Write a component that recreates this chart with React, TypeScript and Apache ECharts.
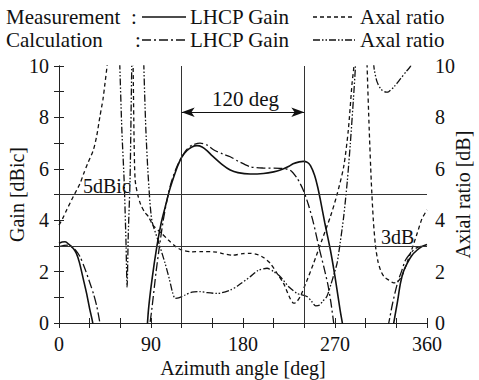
import React, { useEffect, useRef } from "react";
import * as echarts from "echarts";

type Pt = [number, number | string];

const xTicks = [0, 90, 180, 270, 360];

const measGain: Pt[] = [
  [0, 3.1], [3, 3.15], [6, 3.16], [10, 3.05], [14, 2.9], [17, 2.71], [20, 2.35], [24, 1.67], [27, 1.15], [30, 0.55], [33, 0], [36, -1],
  [60, "-"],
  [85, -1], [87.5, 0.5], [91, 1.7], [95.7, 2.97], [100, 3.9], [103.8, 4.5], [108, 5.15], [112, 5.65], [116, 6.1], [120, 6.45], [125, 6.7], [130, 6.85], [135, 6.9], [140, 6.85], [145, 6.7], [150, 6.5], [160, 6.15], [167.5, 5.95], [175, 5.85], [187, 5.8], [200, 5.82], [210, 5.88], [216.5, 5.95], [225, 6.1], [229, 6.2], [235, 6.27], [239, 6.29], [243, 6.25], [246, 6.12], [250, 5.75], [253, 5.3], [255.7, 4.79], [260, 3.9], [265.5, 2.84], [270, 1.8], [275, 0.5], [278, -0.2], [280, -1],
  [300, "-"],
  [324, -1], [327.5, 0], [331, 0.8], [334, 1.54], [337, 2.0], [340.6, 2.32], [345, 2.62], [350.4, 2.84], [355, 2.97], [360, 3.05],
];

const calcGain: Pt[] = [
  [0, 2.97], [5, 3.02], [9, 3.03], [13, 2.95], [17, 2.8], [20.6, 2.58], [25, 2.15], [30.4, 1.54], [34, 1.1], [37, 0.64], [40, 0], [42, -0.6],
  [60, "-"],
  [86, -0.6], [89, 0], [91, 0.6], [95, 2.0], [98, 2.9], [102, 4.0], [106, 4.85], [110, 5.5], [115, 6.05], [120, 6.45], [125, 6.75], [130, 6.92], [138, 7.0], [145, 6.92], [152, 6.72], [160, 6.58], [167.5, 6.47], [175, 6.3], [187, 6.08], [200, 6.03], [216.5, 6.02], [226, 5.95], [233, 5.63], [239, 5.17], [244, 4.6], [249, 3.88], [254, 3.0], [259, 2.19], [263, 1.5], [266, 0.8], [268.7, 0], [271, -0.8],
  [300, "-"],
  [318, -0.8], [322.6, 0], [326, 0.7], [331, 1.54], [335, 2.0], [339, 2.45], [344, 2.72], [348.7, 2.9], [354, 2.98], [360, 3.0],
];

const measAR: Pt[] = [
  [0, 3.81], [4, 4.1], [7.5, 4.4], [14, 4.92], [20.6, 5.43], [24, 5.8], [28, 6.2], [33.6, 6.73], [37, 7.3], [40, 8.03], [43, 8.7], [45, 9.33], [47, 10], [49, 11], [50, 12],
  [60, "-"],
  [71, 14], [72.5, 10], [73.5, 7], [74.5, 5.56], [77, 5.0], [80, 4.6], [84, 4.3], [87.5, 4.14], [92, 3.8], [100, 3.5], [107, 3.23], [115, 2.95], [120, 2.84], [130, 2.77], [140, 2.78], [154, 2.76], [160, 2.7], [170, 2.64], [180, 2.7], [187, 2.71], [195, 2.65], [200, 2.55], [206.7, 2.32], [213, 1.95], [219.7, 1.54], [225, 1.05], [229.5, 0.77], [232, 0.8], [236, 1.03], [242, 1.6], [249, 2.32], [257, 3.2], [265.5, 4.14], [272, 5.0], [278.5, 6.08], [283, 7.5], [286.7, 9.33], [288.5, 10], [290, 11.5],
  [295, "-"],
  [300, 12], [301.4, 10], [303.5, 7.5], [305.5, 5.5], [307.5, 4.0], [309.6, 3.0], [312, 2.4], [314.5, 2.06], [318, 1.8], [322.6, 1.67], [327.5, 1.56], [331, 1.6], [335, 1.8], [339, 2.19], [345, 2.85], [350.4, 3.49], [355, 4.05], [360, 4.4],
];

const calcAR: Pt[] = [
  [58, 12], [59.5, 10], [61.5, 7.5], [63.7, 5.56], [65.5, 3.2], [66.6, 1.4], [67.8, 3.5], [69.5, 5.56], [71.2, 10], [72.5, 12],
  [76, "-"],
  [82, 12], [83, 10], [85, 7.5], [87.5, 5.56], [90.8, 4.0], [97, 3.2], [103.8, 2.32], [108, 1.7], [111, 1.2], [113.6, 0.96], [117, 0.98], [123.4, 1.09], [130, 1.2], [138, 1.22], [145, 1.18], [155, 1.15], [167.5, 1.28], [175, 1.45], [187, 1.8], [195, 2.05], [203.5, 2.13], [210, 2.0], [216.5, 1.8], [225, 1.4], [233, 1.15], [242.5, 1.03], [247, 0.85], [251, 0.67], [255, 0.7], [258, 0.85], [262, 1.03], [266, 1.5], [269, 1.9], [272, 2.32], [275, 3.1], [278.5, 4.14], [282, 5.5], [285, 6.99], [288, 8.7], [290, 10], [292, 12],
  [299, "-"],
  [306, 12], [308, 10], [311, 9.4], [315, 9.1], [320, 8.98], [322.6, 9.0], [328, 9.2], [334, 9.5], [340, 9.8], [344, 10], [346, 10.5], [348, 11],
];

const refGain = 5;
const refAR = 3;
const beamEdges = [120, 240];
const arrowLevel = 8.2;

const FONT = "Liberation Serif";

export default function App() {
  const ref = useRef<HTMLDivElement>(null);
  useEffect(() => {
    document.body.style.margin = "0";
    const chart = echarts.init(ref.current!, null, { renderer: "svg" });
    const axisLine = { lineStyle: { color: "#222", width: 1 } };
    const tickCommon = { inside: true, length: 5, lineStyle: { color: "#222", width: 1 } };
    const txt = (text: string, x: number, y: number, size = 20) => ({
      type: "text", x, y,
      style: { text, fontFamily: FONT, fontSize: size, fill: "#111", textVerticalAlign: "middle", verticalAlign: "middle" },
    });
    const lineSeries = (name: string, data: Pt[], type: any, width = 1.5) => ({
      name,
      type: "line",
      data,
      showSymbol: false,
      symbol: "none",
      smooth: 0.25,
      connectNulls: false,
      clip: true,
      lineStyle: { color: "#111", width, type },
      z: 3,
    });
    const option: any = {
      animation: false,
      backgroundColor: "#fff",
      grid: { left: 59, right: 52, top: 66, bottom: 57, containLabel: false, outerBoundsMode: "none" },
      xAxis: [
        {
          type: "value", min: 0, max: 360, interval: 30, position: "bottom",
          name: "Azimuth angle [deg]", nameLocation: "middle", nameGap: 35, nameMoveOverlap: false,
          nameTextStyle: { fontFamily: FONT, fontSize: 20, color: "#111" },
          axisLine, axisTick: tickCommon, splitLine: { show: false },
          axisLabel: { fontFamily: FONT, fontSize: 20, color: "#111", margin: 11,
            formatter: (v: number) => (xTicks.indexOf(v) >= 0 ? String(v) : "") },
        },
        {
          type: "value", min: 0, max: 360, interval: 30, position: "top",
          axisLine, axisTick: tickCommon, splitLine: { show: false }, axisLabel: { show: false },
        },
      ],
      yAxis: [
        {
          type: "value", min: 0, max: 10, interval: 1, position: "left",
          name: "Gain [dBic]", nameLocation: "middle", nameGap: 32, nameRotate: 90, nameMoveOverlap: false,
          nameTextStyle: { fontFamily: FONT, fontSize: 20, color: "#111" },
          axisLine, axisTick: tickCommon, splitLine: { show: false },
          axisLabel: { fontFamily: FONT, fontSize: 20, color: "#111", margin: 10,
            formatter: (v: number) => (v % 2 === 0 ? String(v) : "") },
        },
        {
          type: "value", min: 0, max: 10, interval: 1, position: "right",
          name: "Axial ratio [dB]", nameLocation: "middle", nameGap: 26, nameRotate: 90, nameMoveOverlap: false,
          nameTextStyle: { fontFamily: FONT, fontSize: 20, color: "#111" },
          axisLine, axisTick: tickCommon, splitLine: { show: false },
          axisLabel: { fontFamily: FONT, fontSize: 20, color: "#111", margin: 8,
            formatter: (v: number) => (v % 2 === 0 ? String(v) : "") },
        },
      ],
      series: [
        {
          ...lineSeries("Measurement LHCP Gain", measGain, "solid", 1.6),
          markLine: {
            silent: true, symbol: "none", animation: false,
            label: { show: false },
            lineStyle: { color: "#333", width: 1, type: "solid" },
            data: [
              { yAxis: refGain },
              { yAxis: refAR },
              { xAxis: beamEdges[0] },
              { xAxis: beamEdges[1] },
            ],
          },
        },
        lineSeries("Calculation LHCP Gain", calcGain, [9, 3, 2, 3], 1.3),
        lineSeries("Measurement Axal ratio", measAR, [4, 3], 1.3),
        lineSeries("Calculation Axal ratio", calcAR, [7, 2, 1.5, 2, 1.5, 2], 1.3),
        {
          name: "arrow", type: "line", data: [], showSymbol: false,
          markLine: {
            silent: true, symbol: ["arrow", "arrow"], symbolSize: [7, 13], animation: false,
            label: { show: false },
            lineStyle: { color: "#111", width: 1, type: "solid" },
            itemStyle: { color: "#111" },
            data: [[{ coord: [beamEdges[0], arrowLevel] }, { coord: [beamEdges[1], arrowLevel] }]],
          },
        },
      ],
      graphic: [
        txt("Measurement", 6, 17, 21),
        txt(":", 131, 17, 21),
        { type: "line", shape: { x1: 142, y1: 17, x2: 186, y2: 17 }, style: { stroke: "#111", lineWidth: 1.5 } },
        txt("LHCP Gain", 190, 17, 21),
        { type: "line", shape: { x1: 313, y1: 17, x2: 355, y2: 17 }, style: { stroke: "#111", lineWidth: 1.3, lineDash: [4, 3] } },
        txt("Axal ratio", 360, 17, 21),
        txt("Calculation", 6, 40, 21),
        txt(":", 135, 40, 21),
        { type: "line", shape: { x1: 142, y1: 40, x2: 186, y2: 40 }, style: { stroke: "#111", lineWidth: 1.3, lineDash: [9, 3, 2, 3] } },
        txt("LHCP Gain", 190, 40, 21),
        { type: "line", shape: { x1: 313, y1: 40, x2: 355, y2: 40 }, style: { stroke: "#111", lineWidth: 1.3, lineDash: [7, 2, 1.5, 2, 1.5, 2] } },
        txt("Axal ratio", 360, 40, 21),
        txt("5dBic", 83, 186),
        txt("3dB", 381, 237),
        txt("120 deg", 212, 99, 21),
      ],
    };
    chart.setOption(option);
    return () => chart.dispose();
  }, []);
  return <div ref={ref} style={{ width: 479, height: 380 }} />;
}
